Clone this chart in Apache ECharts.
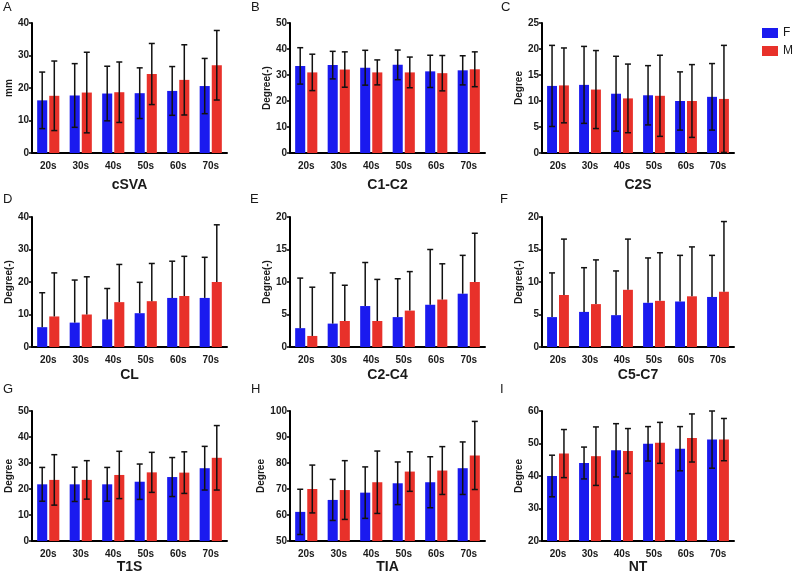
<!DOCTYPE html>
<html>
<head>
<meta charset="utf-8">
<script src="https://cdn.jsdelivr.net/npm/echarts@6/dist/echarts.min.js"></script>
<style>
html,body{margin:0;padding:0;background:#fff;}
#main{width:795px;height:572px;}
</style>
</head>
<body>
<div id="main"></div>
<script>
// ---- data ----
var ageGroups = ['20s', '30s', '40s', '50s', '60s', '70s'];
var sexes = ['F', 'M'];
var panelLetters = ['A', 'B', 'C', 'D', 'E', 'F', 'G', 'H', 'I'];
var panelTitles = ['cSVA', 'C1-C2', 'C2S', 'CL', 'C2-C4', 'C5-C7', 'T1S', 'TIA', 'NT'];
var yAxisNames = ['mm', 'Degree(-)', 'Degree', 'Degree(-)', 'Degree(-)', 'Degree(-)', 'Degree', 'Degree', 'Degree'];
var yMin = [0, 0, 0, 0, 0, 0, 0, 50, 20];
var yMax = [40, 50, 25, 40, 20, 20, 50, 100, 60];
var yStep = [10, 10, 5, 10, 5, 5, 10, 10, 10];
var upperOnly = [false, false, false, true, true, true, false, false, false];

var cSVA_F = [16.2, 17.7, 18.3, 18.4, 19.1, 20.6];
var cSVA_F_sd = [8.7, 9.8, 8.4, 7.8, 7.5, 8.5];
var cSVA_M = [17.6, 18.6, 18.7, 24.3, 22.5, 27.0];
var cSVA_M_sd = [10.7, 12.4, 9.3, 9.4, 10.8, 10.7];

var C1C2_F = [33.5, 33.8, 32.8, 33.9, 31.4, 31.8];
var C1C2_F_sd = [7.0, 5.3, 6.7, 5.7, 6.2, 5.6];
var C1C2_M = [31.0, 32.1, 31.0, 31.0, 30.7, 32.2];
var C1C2_M_sd = [7.0, 6.8, 4.8, 5.9, 6.8, 6.7];

var C2S_F = [12.9, 13.1, 11.4, 11.1, 10.0, 10.8];
var C2S_F_sd = [7.8, 7.4, 7.2, 5.7, 5.6, 6.4];
var C2S_M = [13.0, 12.2, 10.5, 11.0, 10.0, 10.4];
var C2S_M_sd = [7.2, 7.5, 6.6, 7.8, 7.0, 10.3];

var CL_F = [6.1, 7.5, 8.5, 10.4, 15.1, 15.1];
var CL_F_sd = [10.6, 13.1, 9.5, 9.5, 11.3, 12.5];
var CL_M = [9.4, 10.0, 13.8, 14.1, 15.7, 20.0];
var CL_M_sd = [13.4, 11.6, 11.6, 11.6, 12.2, 17.6];

var C2C4_F = [2.9, 3.6, 6.3, 4.6, 6.5, 8.2];
var C2C4_F_sd = [7.7, 7.8, 6.7, 5.9, 8.5, 5.9];
var C2C4_M = [1.7, 4.0, 4.0, 5.6, 7.3, 10.0];
var C2C4_M_sd = [7.5, 5.5, 6.4, 6.0, 5.5, 7.5];

var C5C7_F = [4.6, 5.4, 4.9, 6.8, 7.0, 7.7];
var C5C7_F_sd = [6.8, 6.8, 6.8, 6.9, 7.1, 6.4];
var C5C7_M = [8.0, 6.6, 8.8, 7.1, 7.8, 8.5];
var C5C7_M_sd = [8.6, 6.8, 7.8, 7.4, 7.6, 10.8];

var T1S_F = [21.8, 21.8, 21.8, 22.8, 24.6, 28.0];
var T1S_F_sd = [6.5, 6.6, 6.5, 6.8, 7.5, 8.4];
var T1S_M = [23.5, 23.5, 25.4, 26.4, 26.3, 32.0];
var T1S_M_sd = [9.7, 7.4, 9.1, 7.7, 8.0, 12.4];

var TIA_F = [61.2, 65.8, 68.6, 72.2, 72.6, 78.0];
var TIA_F_sd = [8.7, 7.9, 9.9, 8.2, 9.8, 10.1];
var TIA_M = [70.0, 69.6, 72.6, 76.7, 77.1, 82.9];
var TIA_M_sd = [9.2, 11.3, 12.0, 7.6, 9.2, 13.1];

var NT_F = [40.0, 44.0, 47.9, 49.9, 48.4, 51.2];
var NT_F_sd = [6.4, 4.9, 8.2, 5.3, 6.8, 8.8];
var NT_M = [46.9, 46.1, 47.7, 50.2, 51.7, 51.2];
var NT_M_sd = [7.4, 9.0, 6.9, 6.3, 7.4, 6.5];

var meansF = [cSVA_F, C1C2_F, C2S_F, CL_F, C2C4_F, C5C7_F, T1S_F, TIA_F, NT_F];
var sdsF = [cSVA_F_sd, C1C2_F_sd, C2S_F_sd, CL_F_sd, C2C4_F_sd, C5C7_F_sd, T1S_F_sd, TIA_F_sd, NT_F_sd];
var meansM = [cSVA_M, C1C2_M, C2S_M, CL_M, C2C4_M, C5C7_M, T1S_M, TIA_M, NT_M];
var sdsM = [cSVA_M_sd, C1C2_M_sd, C2S_M_sd, CL_M_sd, C2C4_M_sd, C5C7_M_sd, T1S_M_sd, TIA_M_sd, NT_M_sd];

// ---- layout / style ----
var FONT = '"Liberation Sans", Arial, sans-serif';
var TXT = '#1a1a1a';
var BLUE = '#1a1aef';
var RED = '#e8312a';
var colLeft = [32, 290, 542];
var colWidth = [195, 195, 192];
var rowTop = [23, 217, 411];
var rowHeight = 130;
var titleGap = [25, 21, 17];
var letterPos = [[3, 1], [251, 1], [501, 1], [3, 193], [250, 193], [500, 193], [3, 383], [251, 383], [500, 383]];
var BAR_FRAC = 0.31, GAP_FRAC = 0.2;

function makeRender(onlyUp) {
  return function (params, api) {
    var c = api.value(0), m = api.value(1), s = api.value(2), k = api.value(3);
    var band = api.size([1, 0])[0];
    var w = band * BAR_FRAC, g = w * GAP_FRAC;
    var off = (k === 0 ? -1 : 1) * (w + g) / 2;
    var pt = api.coord([c, m + s]);
    var pm = api.coord([c, m]);
    var pb = api.coord([c, m - s]);
    var x = pt[0] + off;
    var y1 = pt[1];
    var y2 = onlyUp ? pm[1] : pb[1];
    var cap = 3;
    var st = { stroke: '#111', lineWidth: 1.5 };
    var children = [
      { type: 'line', shape: { x1: x, y1: y1, x2: x, y2: y2 }, style: st },
      { type: 'line', shape: { x1: x - cap, y1: y1, x2: x + cap, y2: y1 }, style: st }
    ];
    if (!onlyUp) {
      children.push({ type: 'line', shape: { x1: x - cap, y1: y2, x2: x + cap, y2: y2 }, style: st });
    }
    return { type: 'group', children: children };
  };
}

var grids = [], xAxes = [], yAxes = [], series = [], graphics = [];
for (var p = 0; p < 9; p++) {
  var r = Math.floor(p / 3), c = p % 3;
  grids.push({
    left: colLeft[c], top: rowTop[r], width: colWidth[c], height: rowHeight,
    containLabel: false, outerBoundsMode: 'none'
  });
  xAxes.push({
    type: 'category', gridIndex: p, data: ageGroups,
    name: panelTitles[p], nameLocation: 'middle', nameGap: titleGap[r],
    nameTextStyle: { fontFamily: FONT, fontWeight: 'bold', fontSize: 14, color: TXT },
    axisLine: { lineStyle: { color: '#000', width: 2 } },
    axisTick: { show: false },
    axisLabel: { fontFamily: FONT, fontWeight: 'bold', fontSize: 10, color: TXT, margin: 8 }
  });
  yAxes.push({
    type: 'value', gridIndex: p, min: yMin[p], max: yMax[p], interval: yStep[p],
    name: yAxisNames[p], nameLocation: 'middle', nameGap: 18,
    nameTextStyle: { fontFamily: FONT, fontWeight: 'bold', fontSize: 10, color: TXT },
    axisLine: { show: true, lineStyle: { color: '#000', width: 2 } },
    axisTick: { show: true, length: 3, lineStyle: { color: '#000', width: 1.5 } },
    axisLabel: { fontFamily: FONT, fontWeight: 'bold', fontSize: 10, color: TXT, margin: 3 },
    splitLine: { show: false }
  });
  series.push({
    name: 'F', type: 'bar', xAxisIndex: p, yAxisIndex: p,
    data: meansF[p], barWidth: (BAR_FRAC * 100) + '%', barGap: (GAP_FRAC * 100) + '%',
    itemStyle: { color: BLUE }, silent: true
  });
  series.push({
    name: 'M', type: 'bar', xAxisIndex: p, yAxisIndex: p,
    data: meansM[p], barWidth: (BAR_FRAC * 100) + '%', barGap: (GAP_FRAC * 100) + '%',
    itemStyle: { color: RED }, silent: true
  });
  var errData = [];
  for (var i = 0; i < ageGroups.length; i++) {
    errData.push([i, meansF[p][i], sdsF[p][i], 0]);
    errData.push([i, meansM[p][i], sdsM[p][i], 1]);
  }
  series.push({
    name: 'err' + p, type: 'custom', xAxisIndex: p, yAxisIndex: p,
    renderItem: makeRender(upperOnly[p]), data: errData, z: 10, silent: true,
    encode: { x: 0, y: 1 }
  });
  graphics.push({
    type: 'text', left: letterPos[p][0], top: letterPos[p][1],
    style: { text: panelLetters[p], font: '13px ' + FONT, fill: TXT }
  });
}

var chart = echarts.init(document.getElementById('main'), null, { renderer: 'canvas' });
chart.setOption({
  animation: false,
  backgroundColor: '#fff',
  grid: grids,
  xAxis: xAxes,
  yAxis: yAxes,
  series: series,
  graphic: graphics,
  legend: {
    data: sexes, orient: 'vertical', left: 762, top: 27, padding: 0,
    itemWidth: 16, itemHeight: 10, itemGap: 6,
    icon: 'rect', textStyle: { fontFamily: FONT, fontSize: 12, color: TXT }
  }
});
</script>
</body>
</html>
